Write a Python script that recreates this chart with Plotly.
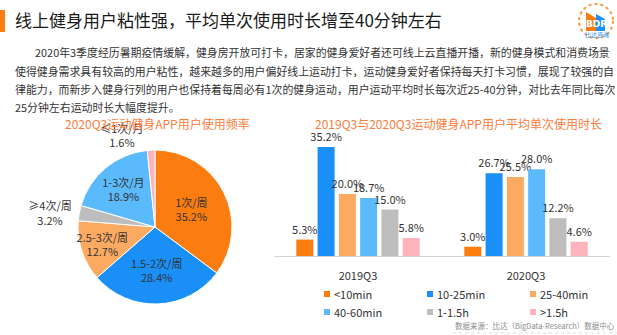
import plotly.graph_objects as go

W, H = 617, 335

# ---------------- data ----------------
pie_labels = ["1次/周", "1.5-2次/周", "2.5-3次/周", "≥4次/周", "1-3次/月", "≤1次/月"]
pie_values = [35.2, 28.4, 12.7, 3.2, 18.9, 1.6]
pie_colors = ["#FB7D10", "#1A8FF8", "#FCAA62", "#BDBDBD", "#5BBAFB", "#FCB4BC"]
pie_textpos = ["inside", "inside", "inside", "outside", "inside", "outside"]

bar_categories = ["2019Q3", "2020Q3"]
bar_series = ["<10min", "10-25min", "25-40min", "40-60min", "1-1.5h", ">1.5h"]
bar_values = {
    "<10min": [5.3, 3.0],
    "10-25min": [35.2, 26.7],
    "25-40min": [20.0, 25.5],
    "40-60min": [18.7, 28.0],
    "1-1.5h": [15.0, 12.2],
    ">1.5h": [5.8, 4.6],
}
bar_colors = ["#FB7D10", "#1A8FF8", "#FCAA62", "#5BBAFB", "#BDBDBD", "#FCB4BC"]

title_text = "线上健身用户粘性强，平均单次使用时长增至40分钟左右"
para_lines = [
    "2020年3季度经历暑期疫情缓解，健身房开放可打卡，居家的健身爱好者还可线上云直播开播，新的健身模式和消费场景",
    "使得健身需求具有较高的用户粘性，越来越多的用户偏好线上运动打卡，运动健身爱好者保持每天打卡习惯，展现了较强的自",
    "律能力，而新步入健身行列的用户也保持着每周必有1次的健身运动，用户运动平均时长每次近25-40分钟，对比去年同比每次",
    "25分钟左右运动时长大幅度提升。",
]
pie_title = "2020Q3运动健身APP用户使用频率"
bar_title = "2019Q3与2020Q3运动健身APP用户平均单次使用时长"
source_text = "数据来源：比达（BigData-Research）数据中心"

FONT = "Noto Sans CJK SC"

def px(x):
    return x / W

def py(y):
    return 1 - y / H

fig = go.Figure()

# ---------------- pie ----------------
fig.add_trace(go.Pie(
    labels=pie_labels,
    values=pie_values,
    sort=False,
    direction="clockwise",
    rotation=0,
    marker=dict(colors=pie_colors, line=dict(color="white", width=1)),
    texttemplate="%{label}<br>%{value:.1f}%",
    textposition=pie_textpos,
    insidetextorientation="horizontal",
    insidetextfont=dict(family=FONT, size=11, color="#333333"),
    outsidetextfont=dict(family=FONT, size=11, color="#333333"),
    hoverinfo="skip",
    showlegend=False,
    domain=dict(x=[px(78), px(232)], y=[py(304), py(150)]),
))

# ---------------- bars ----------------
for name, col in zip(bar_series, bar_colors):
    vals = bar_values[name]
    fig.add_trace(go.Bar(
        x=bar_categories,
        y=vals,
        name=name,
        marker=dict(color=col, line=dict(width=0)),
        text=[f"{v:.1f}%" for v in vals],
        textposition="outside",
        constraintext="none",
        textfont=dict(family=FONT, size=11, color="#333333"),
        cliponaxis=False,
        showlegend=False,
        hoverinfo="skip",
    ))

fig.update_layout(
    width=W, height=H,
    margin=dict(l=0, r=0, t=0, b=0, autoexpand=False),
    paper_bgcolor="white",
    plot_bgcolor="white",
    font=dict(family=FONT, size=11, color="#333333"),
    showlegend=False,
    barmode="group",
    bargap=0.24,
    bargroupgap=0.2,
    uniformtext=dict(minsize=11, mode="show"),
    xaxis=dict(
        domain=[px(274), px(610)],
        range=[-0.5, 1.5],
        showline=True, linecolor="#D4D4D4", linewidth=1,
        showgrid=False, zeroline=False,
        ticks="", ticklabelstandoff=10,
        tickfont=dict(family=FONT, size=11, color="#333333"),
        fixedrange=True,
    ),
    yaxis=dict(
        domain=[py(256), py(132)],
        range=[0, 40],
        visible=False,
        showgrid=False, zeroline=False,
        fixedrange=True,
    ),
)

annotations = []
shapes = []

# title
annotations.append(dict(
    text=title_text, x=px(13), y=py(20), xref="paper", yref="paper",
    xanchor="left", yanchor="middle", showarrow=False,
    font=dict(family=FONT, size=17, color="#1A1A1A"),
))
# paragraph
para_y = [52, 71, 89, 107]
for i, (line, yy) in enumerate(zip(para_lines, para_y)):
    annotations.append(dict(
        text=line, x=px(33 if i == 0 else 13), y=py(yy), xref="paper", yref="paper",
        xanchor="left", yanchor="middle", showarrow=False,
        font=dict(family=FONT, size=10.9, color="#333333"),
    ))
# chart titles
annotations.append(dict(
    text=pie_title, x=px(157), y=py(123), xref="paper", yref="paper",
    xanchor="center", yanchor="middle", showarrow=False,
    font=dict(family=FONT, size=12, color="#FB7D3C"),
))
annotations.append(dict(
    text=bar_title, x=px(458), y=py(123), xref="paper", yref="paper",
    xanchor="center", yanchor="middle", showarrow=False,
    font=dict(family=FONT, size=12, color="#FB7D3C"),
))

# legend (3 columns x 2 rows)
leg_cols_x = [324, 427, 530]
leg_rows_y = [294, 312]
for i, (name, col) in enumerate(zip(bar_series, bar_colors)):
    cx = leg_cols_x[i % 3]
    cy = leg_rows_y[i // 3]
    shapes.append(dict(type="rect", xref="paper", yref="paper",
                       x0=px(cx), x1=px(cx + 6), y0=py(cy + 3), y1=py(cy - 3),
                       fillcolor=col, line=dict(width=0)))
    annotations.append(dict(
        text=name, x=px(cx + 8), y=py(cy), xref="paper", yref="paper",
        xanchor="left", yanchor="middle", showarrow=False,
        font=dict(family=FONT, size=11, color="#333333"),
    ))

# source
annotations.append(dict(
    text=source_text, x=px(453), y=py(325), xref="paper", yref="paper",
    xanchor="left", yanchor="middle", showarrow=False,
    font=dict(family=FONT, size=7.5, color="#8C8C8C"),
))
# logo texts
annotations.append(dict(
    text="<b>BDR</b>", x=px(596), y=py(24), xref="paper", yref="paper",
    xanchor="center", yanchor="middle", showarrow=False,
    font=dict(family="DejaVu Sans", size=9, color="white"),
))
annotations.append(dict(
    text="比达咨询", x=px(597), y=py(35), xref="paper", yref="paper",
    xanchor="center", yanchor="middle", showarrow=False,
    font=dict(family=FONT, size=6, color="#1A8FF8"),
))
fig.update_layout(annotations=annotations)

# orange title bar
shapes.append(dict(type="rect", xref="paper", yref="paper",
                   x0=0, x1=px(5), y0=py(32), y1=py(10),
                   fillcolor="#FB7D10", line=dict(width=0)))
# source underline
shapes.append(dict(type="line", xref="paper", yref="paper",
                   x0=px(453), x1=1, y0=py(333), y1=py(333),
                   line=dict(color="#DDDDDD", width=1, dash="dot")))
# logo
shapes.append(dict(type="circle", xref="paper", yref="paper",
                   x0=px(579), x1=px(613), y0=py(38), y1=py(4),
                   line=dict(color="#FB9A3C", width=2, dash="dot")))
shapes.append(dict(type="path", xref="paper", yref="paper",
                   path=f"M {px(586)} {py(31)} L {px(586)} {py(12)} L {px(596)} {py(18)} L {px(596)} {py(31)} Z",
                   fillcolor="#FB7D10", line=dict(width=0)))
shapes.append(dict(type="path", xref="paper", yref="paper",
                   path=f"M {px(596)} {py(31)} L {px(596)} {py(14)} L {px(605)} {py(19)} L {px(605)} {py(31)} Z",
                   fillcolor="#1A8FF8", line=dict(width=0)))
fig.update_layout(shapes=shapes)

fig.write_html("out.html")
